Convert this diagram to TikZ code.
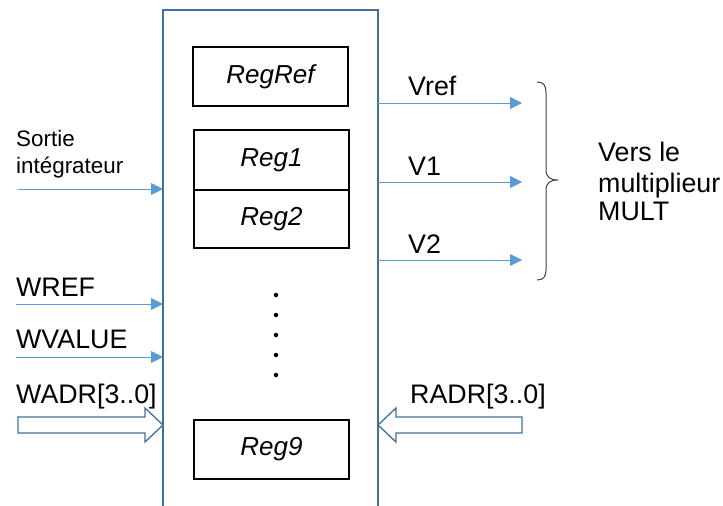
\documentclass[tikz,border=0pt]{standalone}
\usepackage{fontspec}
\setmainfont{Liberation Sans}
\usetikzlibrary{arrows.meta}
\definecolor{lineblue}{HTML}{5B9BD5}
\definecolor{boxblue}{HTML}{41719C}
\definecolor{bracegray}{HTML}{404040}
\begin{document}
\begin{tikzpicture}[x=1pt,y=-1pt,
  reg/.style={draw=black,line width=1.3pt,minimum width=155pt,minimum height=59pt,inner sep=0pt,font=\fontsize{26}{30}\selectfont\itshape},
  lbl/.style={anchor=base west,inner sep=0pt,font=\fontsize{26.8}{30}\selectfont},
  sml/.style={anchor=base west,inner sep=0pt,font=\fontsize{22.4}{25}\selectfont},
  sig/.style={draw=lineblue,line width=0.9pt,-{Triangle[length=12pt,width=12pt]}},
  hollow/.style={draw=boxblue,fill=white,line width=1.3pt,line join=miter},
  dotm/.style={circle,fill=black,inner sep=0pt,minimum size=4.5pt}]
\fill[white] (0,0) rectangle (723,506);
\useasboundingbox (0,0) rectangle (723,506);
% main block
\draw[boxblue,line width=1.6pt] (163,512) -- (163,10) -- (378,10) -- (378,512);
% registers
\node[reg] (regref) at (270.5,76.5) {RegRef};
\node[reg,minimum height=60pt] (reg1) at (271.5,160) {Reg1};
\node[reg,minimum height=58pt] (reg2) at (271.5,219) {Reg2};
\node[reg] (reg9) at (271.5,449.5) {Reg9};
\foreach \i/\y in {1/295,2/315,3/335,4/355,5/375}
  \node[dotm] (dot\i) at (276,\y) {};
% left inputs
\node[sml] (sortie) at (16,146) {Sortie};
\node[sml] (integ) at (16,173) {intégrateur};
\coordinate (sinS) at (18,189); \coordinate (sinE) at (163,189);
\draw[sig] (sinS) -- (sinE);
\node[lbl] (wref) at (16,296) {WREF};
\coordinate (wrefS) at (16,304); \coordinate (wrefE) at (163,304);
\draw[sig] (wrefS) -- (wrefE);
\node[lbl] (wvalue) at (16,348) {WVALUE};
\coordinate (wvalS) at (16,357); \coordinate (wvalE) at (163,357);
\draw[sig] (wvalS) -- (wvalE);
\node[lbl] (wadr) at (16,403) {WADR[3..0]};
\draw[hollow] (18,417) -- (145,417) -- (145,408) -- (163,425) -- (145,442) -- (145,433) -- (18,433) -- cycle;
% right outputs
\node[lbl] (vref) at (408,95) {Vref};
\coordinate (vrefS) at (378,103); \coordinate (vrefE) at (522,103);
\draw[sig] (vrefS) -- (vrefE);
\node[lbl] (v1) at (408,175) {V1};
\coordinate (v1S) at (378,182); \coordinate (v1E) at (522,182);
\draw[sig] (v1S) -- (v1E);
\node[lbl] (v2) at (408,253) {V2};
\coordinate (v2S) at (378,260); \coordinate (v2E) at (522,260);
\draw[sig] (v2S) -- (v2E);
\node[lbl] (radr) at (410,403) {RADR[3..0]};
\draw[hollow] (522,417) -- (396,417) -- (396,408) -- (378,425) -- (396,442) -- (396,433) -- (522,433) -- cycle;
% brace
\draw[bracegray,line width=1pt] (537,82) .. controls (543,82) and (546,85) .. (546,92)
  -- (546,170) .. controls (546,177) and (550,180) .. (558,180)
  .. controls (550,180) and (546,183) .. (546,190)
  -- (546,270) .. controls (546,277) and (543,280) .. (537,280);
\node[lbl] (vers) at (598,161) {Vers le};
\node[lbl] (mult1) at (598,192) {multiplieur};
\node[lbl] (mult2) at (598,220) {MULT};
\end{tikzpicture}
\end{document}
